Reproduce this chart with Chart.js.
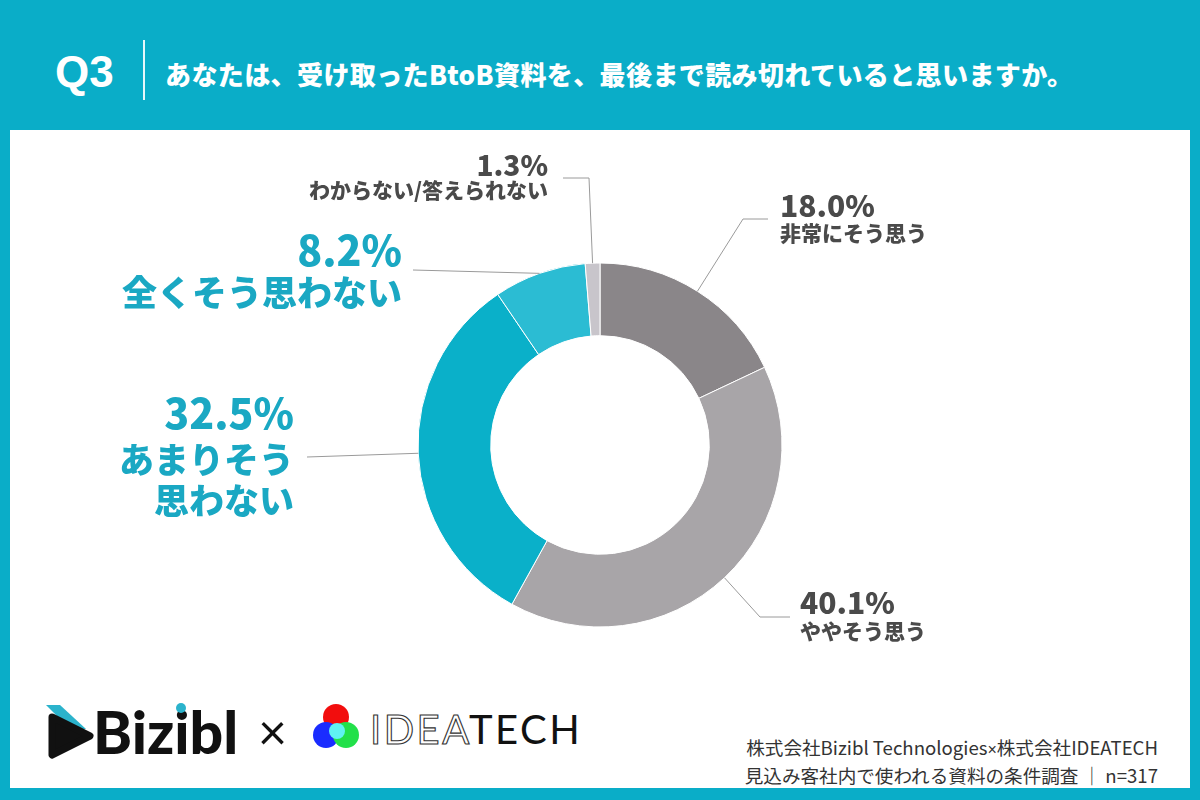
<!DOCTYPE html>
<html lang="ja">
<head>
<meta charset="utf-8">
<script src="https://cdn.jsdelivr.net/npm/chart.js@4"></script>
<style>
  html, body { margin: 0; padding: 0; }
  body { width: 1200px; height: 800px; background: #0aadc8; position: relative; overflow: hidden;
         font-family: "Noto Sans CJK JP", "Noto Sans", sans-serif; }
  .q { position: absolute; left: 55px; top: 46px; font: 700 44px "Liberation Sans", Arial, sans-serif; color: #fff; line-height: 52px; }
  .divider { position: absolute; left: 143px; top: 40px; width: 2px; height: 60px; background: #fff; opacity: .9; }
  .title { position: absolute; left: 165px; top: 56px; font-weight: 900; font-size: 26px; letter-spacing: 0.4px; color: #fff; line-height: 36px; white-space: nowrap; }
  .panel { position: absolute; left: 10px; top: 130px; width: 1180px; height: 658px; background: #fff; }
  #chart { position: absolute; left: 0; top: 0; }
  .logos { position: absolute; left: 40px; top: 695px; }
  .source { position: absolute; right: 42px; top: 734px; text-align: right; font-size: 18.6px; line-height: 25px; color: #333; }
  .source .x { font-family: "Liberation Sans", sans-serif; font-size: 16px; }
</style>
</head>
<body>
<div class="q">Q3</div>
<div class="divider"></div>
<div class="title">あなたは、受け取ったBtoB資料を、最後まで読み切れていると思いますか。</div>
<div class="panel"></div>

<svg class="logos" width="560" height="75" viewBox="0 0 560 75">
  <!-- Bizibl -->
  <polygon points="6,10 20,10 46,34 30,34" fill="#2bb3cc"/>
  <polygon points="12,22 50,41 12,60" fill="#111" stroke="#111" stroke-width="7" stroke-linejoin="round"/>
  <text x="53" y="59" font-family="Lato, 'Liberation Sans', sans-serif" font-weight="900" font-size="59" fill="#111">Bizibl</text>
  <circle cx="141" cy="13" r="5" fill="#2bb3cc"/>
  <!-- x -->
  <text x="218" y="55" font-family="Lato, sans-serif" font-size="50" fill="#111">×</text>
  <!-- IDEATECH mark -->
  <circle cx="296" cy="22" r="13" fill="#f20d0d"/>
  <circle cx="286" cy="40" r="13" fill="#1a2cff"/>
  <circle cx="306" cy="40" r="13" fill="#22e04a"/>
  <circle cx="297" cy="36" r="8" fill="#5ff2f2"/>
  <text x="330" y="49" font-family="Lato, sans-serif" font-weight="400" font-size="40" letter-spacing="2.5"><tspan fill="#fff" stroke="#333" stroke-width="1.1">IDEA</tspan><tspan fill="#111">TECH</tspan></text>
</svg>

<div class="source">株式会社Bizibl Technologies<span class="x">×</span>株式会社IDEATECH<br>見込み客社内で使われる資料の条件調査 ｜ n=317</div>

<canvas id="chart" width="1200" height="800"></canvas>

<script>
// data
const categories = ['非常にそう思う', 'ややそう思う', ['あまりそう', '思わない'], '全くそう思わない', 'わからない/答えられない'];
const values = [18.0, 40.1, 32.5, 8.2, 1.3];
const colors = ['#8a8689', '#a8a5a8', '#0ab0c9', '#2bbcd3', '#c8c5cb'];

// label layout (text placement + leader line bends)
const GRAY = '#4a4a4a', TEAL = '#1aa8c3';
const labelLayout = [
  { x: 780, pctY: 206, lineY: [233], align: 'left', pctSize: 30, txtSize: 21, color: GRAY, path: [[743, 219], [768, 219]] },
  { x: 800, pctY: 603, lineY: [631], align: 'left', pctSize: 30, txtSize: 21, color: GRAY, path: [[760, 617], [790, 617]] },
  { x: 294, pctY: 413, lineY: [460, 501], align: 'right', pctSize: 41, txtSize: 35, color: TEAL, path: [[307, 457]] },
  { x: 402, pctY: 250, lineY: [293], align: 'right', pctSize: 41, txtSize: 35, color: TEAL, path: [[413, 270]] },
  { x: 548, pctY: 165, lineY: [190], align: 'right', pctSize: 28, txtSize: 21, color: GRAY, path: [[589, 178], [563, 178]] },
];

const sliceLabels = {
  id: 'sliceLabels',
  afterDatasetsDraw(chart) {
    const ctx = chart.ctx;
    const arcs = chart.getDatasetMeta(0).data;
    arcs.forEach((arc, i) => {
      const L = labelLayout[i];
      const mid = (arc.startAngle + arc.endAngle) / 2;
      const ax = arc.x + Math.cos(mid) * arc.outerRadius;
      const ay = arc.y + Math.sin(mid) * arc.outerRadius;
      ctx.save();
      ctx.strokeStyle = '#9a9a9a';
      ctx.lineWidth = 1;
      ctx.beginPath();
      ctx.moveTo(ax, ay);
      L.path.forEach(p => ctx.lineTo(p[0], p[1]));
      ctx.stroke();

      ctx.fillStyle = L.color;
      ctx.textAlign = L.align;
      ctx.textBaseline = 'middle';
      ctx.font = `900 ${L.pctSize}px "Noto Sans CJK JP", sans-serif`;
      ctx.fillText(values[i].toFixed(1) + '%', L.x, L.pctY);
      ctx.font = `900 ${L.txtSize}px "Noto Sans CJK JP", sans-serif`;
      const lines = [].concat(chart.data.labels[i]);
      lines.forEach((t, k) => ctx.fillText(t, L.x, L.lineY[k]));
      ctx.restore();
    });
  }
};

new Chart(document.getElementById('chart'), {
  type: 'doughnut',
  data: {
    labels: categories,
    datasets: [{ data: values, backgroundColor: colors, borderColor: '#fff', borderWidth: 1, hoverOffset: 0 }]
  },
  options: {
    responsive: false,
    animation: false,
    radius: 182,
    cutout: 109,
    rotation: 0,
    layout: { padding: { top: 263, bottom: 173, left: 0, right: 0 } },
    plugins: { legend: { display: false }, tooltip: { enabled: false } },
    events: []
  },
  plugins: [sliceLabels]
});
</script>
</body>
</html>
